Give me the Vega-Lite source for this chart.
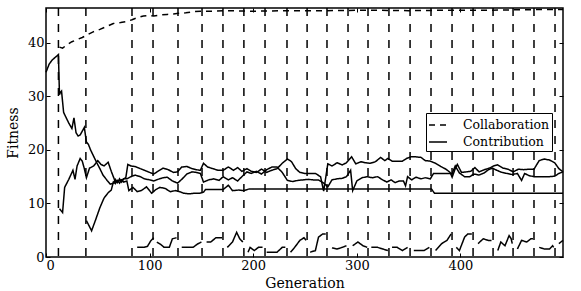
{
  "$schema": "https://vega.github.io/schema/vega-lite/v6.json",
  "width": 517,
  "height": 249,
  "autosize": {"type": "none"},
  "padding": {"left": 46, "top": 8, "right": 18, "bottom": 34},
  "config": {
    "view": {"stroke": "black", "strokeWidth": 1.5},
    "font": "DejaVu Serif",
    "axis": {"grid": false, "domain": false, "tickColor": "black", "tickWidth": 1, "tickSize": -4, "labelFont": "DejaVu Serif", "labelFontSize": 13, "labelColor": "black", "titleFont": "DejaVu Serif", "titleFontSize": 14, "titleFontWeight": "normal", "titleColor": "black"},
    "legend": {"labelFont": "DejaVu Serif", "labelFontSize": 12.5, "labelColor": "black"}
  },
  "datasets": {
    "events": [{"e": 12}, {"e": 38.5}, {"e": 83}, {"e": 103.3}, {"e": 127.4}, {"e": 150.6}, {"e": 170.8}, {"e": 191}, {"e": 211.4}, {"e": 232.6}, {"e": 252}, {"e": 271.2}, {"e": 291.5}, {"e": 310.8}, {"e": 331}, {"e": 351.4}, {"e": 371.6}, {"e": 391.9}, {"e": 412.2}, {"e": 431.5}, {"e": 450.8}, {"e": 471}, {"e": 491.3}],
    "collab": [
      {"g": 13, "v": 39.2, "t": "Collaboration"}, {"g": 16, "v": 39.0, "t": "Collaboration"}, {"g": 20, "v": 39.6, "t": "Collaboration"}, {"g": 25, "v": 40.2, "t": "Collaboration"}, {"g": 30, "v": 40.6, "t": "Collaboration"}, {"g": 35, "v": 41.0, "t": "Collaboration"}, {"g": 39, "v": 41.4, "t": "Collaboration"}, {"g": 45, "v": 42.0, "t": "Collaboration"}, {"g": 52, "v": 42.5, "t": "Collaboration"}, {"g": 58, "v": 43.0, "t": "Collaboration"}, {"g": 65, "v": 43.6, "t": "Collaboration"}, {"g": 72, "v": 43.8, "t": "Collaboration"}, {"g": 78, "v": 44.0, "t": "Collaboration"}, {"g": 83, "v": 44.3, "t": "Collaboration"}, {"g": 88, "v": 44.7, "t": "Collaboration"}, {"g": 94, "v": 45.0, "t": "Collaboration"}, {"g": 100, "v": 45.1, "t": "Collaboration"}, {"g": 104, "v": 45.0, "t": "Collaboration"}, {"g": 110, "v": 45.2, "t": "Collaboration"}, {"g": 117, "v": 45.3, "t": "Collaboration"}, {"g": 123, "v": 45.4, "t": "Collaboration"}, {"g": 128, "v": 45.5, "t": "Collaboration"}, {"g": 135, "v": 45.6, "t": "Collaboration"}, {"g": 142, "v": 45.8, "t": "Collaboration"}, {"g": 149, "v": 45.9, "t": "Collaboration"}, {"g": 160, "v": 45.9, "t": "Collaboration"}, {"g": 175, "v": 46.0, "t": "Collaboration"}, {"g": 200, "v": 45.9, "t": "Collaboration"}, {"g": 230, "v": 46.0, "t": "Collaboration"}, {"g": 270, "v": 46.0, "t": "Collaboration"}, {"g": 310, "v": 46.1, "t": "Collaboration"}, {"g": 350, "v": 46.0, "t": "Collaboration"}, {"g": 390, "v": 46.1, "t": "Collaboration"}, {"g": 430, "v": 46.1, "t": "Collaboration"}, {"g": 470, "v": 46.2, "t": "Collaboration"}, {"g": 499, "v": 46.2, "t": "Collaboration"}
    ],
    "contrib": [
      {"g": 0, "v": 34.5, "s": "A", "t": "Contribution"}, {"g": 3, "v": 36.0, "s": "A", "t": "Contribution"}, {"g": 6, "v": 36.8, "s": "A", "t": "Contribution"}, {"g": 9, "v": 37.3, "s": "A", "t": "Contribution"}, {"g": 12, "v": 37.8, "s": "A", "t": "Contribution"}, {"g": 13, "v": 30.3, "s": "A", "t": "Contribution"}, {"g": 14, "v": 30.8, "s": "A", "t": "Contribution"}, {"g": 15, "v": 31.0, "s": "A", "t": "Contribution"}, {"g": 17, "v": 27.0, "s": "A", "t": "Contribution"}, {"g": 19, "v": 26.2, "s": "A", "t": "Contribution"}, {"g": 22, "v": 25.0, "s": "A", "t": "Contribution"}, {"g": 25, "v": 24.0, "s": "A", "t": "Contribution"}, {"g": 27, "v": 26.0, "s": "A", "t": "Contribution"}, {"g": 29, "v": 23.2, "s": "A", "t": "Contribution"}, {"g": 31, "v": 22.6, "s": "A", "t": "Contribution"}, {"g": 33, "v": 22.8, "s": "A", "t": "Contribution"}, {"g": 35, "v": 23.5, "s": "A", "t": "Contribution"}, {"g": 37, "v": 24.2, "s": "A", "t": "Contribution"}, {"g": 39, "v": 21.5, "s": "A", "t": "Contribution"}, {"g": 41, "v": 21.0, "s": "A", "t": "Contribution"}, {"g": 43, "v": 20.0, "s": "A", "t": "Contribution"}, {"g": 46, "v": 18.8, "s": "A", "t": "Contribution"}, {"g": 49, "v": 17.6, "s": "A", "t": "Contribution"}, {"g": 52, "v": 16.5, "s": "A", "t": "Contribution"}, {"g": 55, "v": 15.3, "s": "A", "t": "Contribution"}, {"g": 59, "v": 14.3, "s": "A", "t": "Contribution"}, {"g": 62, "v": 13.6, "s": "A", "t": "Contribution"}, {"g": 65, "v": 13.8, "s": "A", "t": "Contribution"}, {"g": 67, "v": 14.5, "s": "A", "t": "Contribution"}, {"g": 69, "v": 13.9, "s": "A", "t": "Contribution"}, {"g": 71, "v": 14.6, "s": "A", "t": "Contribution"}, {"g": 73, "v": 14.0, "s": "A", "t": "Contribution"}, {"g": 75, "v": 14.6, "s": "A", "t": "Contribution"}, {"g": 78, "v": 14.6, "s": "A", "t": "Contribution"}, {"g": 82, "v": 15.0, "s": "A", "t": "Contribution"}, {"g": 86, "v": 15.3, "s": "A", "t": "Contribution"}, {"g": 91, "v": 15.0, "s": "A", "t": "Contribution"}, {"g": 95, "v": 14.6, "s": "A", "t": "Contribution"}, {"g": 100, "v": 14.4, "s": "A", "t": "Contribution"}, {"g": 104, "v": 14.2, "s": "A", "t": "Contribution"}, {"g": 108, "v": 14.5, "s": "A", "t": "Contribution"}, {"g": 113, "v": 14.8, "s": "A", "t": "Contribution"}, {"g": 117, "v": 14.9, "s": "A", "t": "Contribution"}, {"g": 122, "v": 14.2, "s": "A", "t": "Contribution"}, {"g": 127, "v": 13.8, "s": "A", "t": "Contribution"}, {"g": 131, "v": 14.5, "s": "A", "t": "Contribution"}, {"g": 136, "v": 15.5, "s": "A", "t": "Contribution"}, {"g": 141, "v": 15.9, "s": "A", "t": "Contribution"}, {"g": 145, "v": 15.8, "s": "A", "t": "Contribution"}, {"g": 149, "v": 15.6, "s": "A", "t": "Contribution"}, {"g": 152, "v": 14.0, "s": "A", "t": "Contribution"}, {"g": 157, "v": 14.4, "s": "A", "t": "Contribution"}, {"g": 162, "v": 14.6, "s": "A", "t": "Contribution"}, {"g": 167, "v": 14.3, "s": "A", "t": "Contribution"}, {"g": 171, "v": 15.0, "s": "A", "t": "Contribution"}, {"g": 176, "v": 14.4, "s": "A", "t": "Contribution"}, {"g": 180, "v": 14.8, "s": "A", "t": "Contribution"}, {"g": 185, "v": 14.2, "s": "A", "t": "Contribution"}, {"g": 189, "v": 15.0, "s": "A", "t": "Contribution"}, {"g": 194, "v": 15.9, "s": "A", "t": "Contribution"}, {"g": 198, "v": 15.6, "s": "A", "t": "Contribution"}, {"g": 203, "v": 16.0, "s": "A", "t": "Contribution"}, {"g": 208, "v": 15.5, "s": "A", "t": "Contribution"}, {"g": 213, "v": 16.3, "s": "A", "t": "Contribution"}, {"g": 218, "v": 16.8, "s": "A", "t": "Contribution"}, {"g": 223, "v": 16.8, "s": "A", "t": "Contribution"}, {"g": 228, "v": 15.8, "s": "A", "t": "Contribution"}, {"g": 233, "v": 14.3, "s": "A", "t": "Contribution"}, {"g": 238, "v": 14.1, "s": "A", "t": "Contribution"}, {"g": 243, "v": 14.3, "s": "A", "t": "Contribution"}, {"g": 248, "v": 14.4, "s": "A", "t": "Contribution"}, {"g": 253, "v": 14.5, "s": "A", "t": "Contribution"}, {"g": 258, "v": 14.4, "s": "A", "t": "Contribution"}, {"g": 263, "v": 14.4, "s": "A", "t": "Contribution"}, {"g": 268, "v": 13.8, "s": "A", "t": "Contribution"}, {"g": 272, "v": 13.1, "s": "A", "t": "Contribution"}, {"g": 276, "v": 14.4, "s": "A", "t": "Contribution"}, {"g": 281, "v": 14.6, "s": "A", "t": "Contribution"}, {"g": 286, "v": 14.7, "s": "A", "t": "Contribution"}, {"g": 290, "v": 15.0, "s": "A", "t": "Contribution"}, {"g": 294, "v": 16.2, "s": "A", "t": "Contribution"}, {"g": 296, "v": 12.4, "s": "A", "t": "Contribution"}, {"g": 300, "v": 14.2, "s": "A", "t": "Contribution"}, {"g": 305, "v": 14.8, "s": "A", "t": "Contribution"}, {"g": 310, "v": 15.0, "s": "A", "t": "Contribution"}, {"g": 315, "v": 14.8, "s": "A", "t": "Contribution"}, {"g": 320, "v": 15.0, "s": "A", "t": "Contribution"}, {"g": 325, "v": 14.4, "s": "A", "t": "Contribution"}, {"g": 329, "v": 14.0, "s": "A", "t": "Contribution"}, {"g": 333, "v": 14.4, "s": "A", "t": "Contribution"}, {"g": 337, "v": 13.9, "s": "A", "t": "Contribution"}, {"g": 341, "v": 14.2, "s": "A", "t": "Contribution"}, {"g": 345, "v": 14.2, "s": "A", "t": "Contribution"}, {"g": 347, "v": 13.3, "s": "A", "t": "Contribution"}, {"g": 349, "v": 15.0, "s": "A", "t": "Contribution"}, {"g": 353, "v": 14.4, "s": "A", "t": "Contribution"}, {"g": 357, "v": 14.9, "s": "A", "t": "Contribution"}, {"g": 362, "v": 14.6, "s": "A", "t": "Contribution"}, {"g": 366, "v": 14.8, "s": "A", "t": "Contribution"}, {"g": 371, "v": 14.6, "s": "A", "t": "Contribution"}, {"g": 374, "v": 15.6, "s": "A", "t": "Contribution"}, {"g": 379, "v": 15.6, "s": "A", "t": "Contribution"}, {"g": 384, "v": 15.6, "s": "A", "t": "Contribution"}, {"g": 388, "v": 15.6, "s": "A", "t": "Contribution"}, {"g": 392, "v": 15.6, "s": "A", "t": "Contribution"}, {"g": 395, "v": 17.0, "s": "A", "t": "Contribution"}, {"g": 399, "v": 15.7, "s": "A", "t": "Contribution"}, {"g": 404, "v": 15.0, "s": "A", "t": "Contribution"}, {"g": 409, "v": 15.0, "s": "A", "t": "Contribution"}, {"g": 413, "v": 15.5, "s": "A", "t": "Contribution"}, {"g": 418, "v": 15.3, "s": "A", "t": "Contribution"}, {"g": 423, "v": 15.7, "s": "A", "t": "Contribution"}, {"g": 427, "v": 16.3, "s": "A", "t": "Contribution"}, {"g": 431, "v": 16.6, "s": "A", "t": "Contribution"}, {"g": 435, "v": 16.2, "s": "A", "t": "Contribution"}, {"g": 440, "v": 15.8, "s": "A", "t": "Contribution"}, {"g": 445, "v": 15.6, "s": "A", "t": "Contribution"}, {"g": 450, "v": 15.4, "s": "A", "t": "Contribution"}, {"g": 455, "v": 15.6, "s": "A", "t": "Contribution"}, {"g": 459, "v": 14.3, "s": "A", "t": "Contribution"}, {"g": 462, "v": 15.6, "s": "A", "t": "Contribution"}, {"g": 466, "v": 15.2, "s": "A", "t": "Contribution"}, {"g": 471, "v": 15.0, "s": "A", "t": "Contribution"}, {"g": 476, "v": 15.0, "s": "A", "t": "Contribution"}, {"g": 481, "v": 15.0, "s": "A", "t": "Contribution"}, {"g": 486, "v": 15.0, "s": "A", "t": "Contribution"}, {"g": 491, "v": 15.1, "s": "A", "t": "Contribution"}, {"g": 495, "v": 15.6, "s": "A", "t": "Contribution"}, {"g": 499, "v": 15.9, "s": "A", "t": "Contribution"},

      {"g": 13, "v": 9.0, "s": "B", "t": "Contribution"}, {"g": 16, "v": 8.3, "s": "B", "t": "Contribution"}, {"g": 18, "v": 13.0, "s": "B", "t": "Contribution"}, {"g": 22, "v": 14.5, "s": "B", "t": "Contribution"}, {"g": 26, "v": 16.2, "s": "B", "t": "Contribution"}, {"g": 28, "v": 14.5, "s": "B", "t": "Contribution"}, {"g": 30, "v": 17.0, "s": "B", "t": "Contribution"}, {"g": 33, "v": 18.4, "s": "B", "t": "Contribution"}, {"g": 35, "v": 17.9, "s": "B", "t": "Contribution"}, {"g": 37, "v": 16.5, "s": "B", "t": "Contribution"}, {"g": 39, "v": 14.8, "s": "B", "t": "Contribution"}, {"g": 42, "v": 16.6, "s": "B", "t": "Contribution"}, {"g": 46, "v": 17.0, "s": "B", "t": "Contribution"}, {"g": 50, "v": 18.0, "s": "B", "t": "Contribution"}, {"g": 53, "v": 17.3, "s": "B", "t": "Contribution"}, {"g": 56, "v": 17.0, "s": "B", "t": "Contribution"}, {"g": 60, "v": 17.7, "s": "B", "t": "Contribution"}, {"g": 63, "v": 16.0, "s": "B", "t": "Contribution"}, {"g": 67, "v": 14.0, "s": "B", "t": "Contribution"}, {"g": 70, "v": 14.2, "s": "B", "t": "Contribution"}, {"g": 74, "v": 14.5, "s": "B", "t": "Contribution"}, {"g": 77, "v": 14.8, "s": "B", "t": "Contribution"}, {"g": 79, "v": 17.3, "s": "B", "t": "Contribution"}, {"g": 82, "v": 17.0, "s": "B", "t": "Contribution"}, {"g": 86, "v": 16.9, "s": "B", "t": "Contribution"}, {"g": 91, "v": 16.5, "s": "B", "t": "Contribution"}, {"g": 95, "v": 16.2, "s": "B", "t": "Contribution"}, {"g": 100, "v": 15.8, "s": "B", "t": "Contribution"}, {"g": 104, "v": 15.5, "s": "B", "t": "Contribution"}, {"g": 108, "v": 16.0, "s": "B", "t": "Contribution"}, {"g": 113, "v": 16.6, "s": "B", "t": "Contribution"}, {"g": 118, "v": 16.3, "s": "B", "t": "Contribution"}, {"g": 123, "v": 15.8, "s": "B", "t": "Contribution"}, {"g": 127, "v": 15.9, "s": "B", "t": "Contribution"}, {"g": 131, "v": 16.8, "s": "B", "t": "Contribution"}, {"g": 136, "v": 16.9, "s": "B", "t": "Contribution"}, {"g": 141, "v": 16.5, "s": "B", "t": "Contribution"}, {"g": 145, "v": 16.3, "s": "B", "t": "Contribution"}, {"g": 149, "v": 16.2, "s": "B", "t": "Contribution"}, {"g": 152, "v": 17.5, "s": "B", "t": "Contribution"}, {"g": 156, "v": 16.8, "s": "B", "t": "Contribution"}, {"g": 161, "v": 16.5, "s": "B", "t": "Contribution"}, {"g": 166, "v": 16.2, "s": "B", "t": "Contribution"}, {"g": 171, "v": 16.2, "s": "B", "t": "Contribution"}, {"g": 176, "v": 16.8, "s": "B", "t": "Contribution"}, {"g": 181, "v": 16.2, "s": "B", "t": "Contribution"}, {"g": 185, "v": 16.7, "s": "B", "t": "Contribution"}, {"g": 189, "v": 16.0, "s": "B", "t": "Contribution"}, {"g": 194, "v": 16.5, "s": "B", "t": "Contribution"}, {"g": 198, "v": 16.0, "s": "B", "t": "Contribution"}, {"g": 203, "v": 15.8, "s": "B", "t": "Contribution"}, {"g": 208, "v": 16.4, "s": "B", "t": "Contribution"}, {"g": 213, "v": 15.8, "s": "B", "t": "Contribution"}, {"g": 218, "v": 16.2, "s": "B", "t": "Contribution"}, {"g": 223, "v": 16.5, "s": "B", "t": "Contribution"}, {"g": 228, "v": 17.5, "s": "B", "t": "Contribution"}, {"g": 233, "v": 18.3, "s": "B", "t": "Contribution"}, {"g": 237, "v": 17.8, "s": "B", "t": "Contribution"}, {"g": 241, "v": 16.5, "s": "B", "t": "Contribution"}, {"g": 245, "v": 15.8, "s": "B", "t": "Contribution"}, {"g": 250, "v": 15.6, "s": "B", "t": "Contribution"}, {"g": 255, "v": 15.6, "s": "B", "t": "Contribution"}, {"g": 260, "v": 15.6, "s": "B", "t": "Contribution"}, {"g": 265, "v": 15.0, "s": "B", "t": "Contribution"}, {"g": 268, "v": 12.3, "s": "B", "t": "Contribution"}, {"g": 272, "v": 17.4, "s": "B", "t": "Contribution"}, {"g": 276, "v": 17.0, "s": "B", "t": "Contribution"}, {"g": 281, "v": 17.6, "s": "B", "t": "Contribution"}, {"g": 286, "v": 17.2, "s": "B", "t": "Contribution"}, {"g": 290, "v": 17.6, "s": "B", "t": "Contribution"}, {"g": 295, "v": 18.7, "s": "B", "t": "Contribution"}, {"g": 299, "v": 17.4, "s": "B", "t": "Contribution"}, {"g": 304, "v": 17.8, "s": "B", "t": "Contribution"}, {"g": 308, "v": 17.6, "s": "B", "t": "Contribution"}, {"g": 313, "v": 17.5, "s": "B", "t": "Contribution"}, {"g": 318, "v": 17.8, "s": "B", "t": "Contribution"}, {"g": 323, "v": 18.6, "s": "B", "t": "Contribution"}, {"g": 327, "v": 18.0, "s": "B", "t": "Contribution"}, {"g": 330, "v": 18.4, "s": "B", "t": "Contribution"}, {"g": 334, "v": 17.9, "s": "B", "t": "Contribution"}, {"g": 339, "v": 17.9, "s": "B", "t": "Contribution"}, {"g": 344, "v": 17.9, "s": "B", "t": "Contribution"}, {"g": 348, "v": 18.4, "s": "B", "t": "Contribution"}, {"g": 352, "v": 18.7, "s": "B", "t": "Contribution"}, {"g": 357, "v": 18.7, "s": "B", "t": "Contribution"}, {"g": 362, "v": 18.6, "s": "B", "t": "Contribution"}, {"g": 366, "v": 18.0, "s": "B", "t": "Contribution"}, {"g": 371, "v": 17.9, "s": "B", "t": "Contribution"}, {"g": 376, "v": 17.5, "s": "B", "t": "Contribution"}, {"g": 381, "v": 16.9, "s": "B", "t": "Contribution"}, {"g": 386, "v": 16.4, "s": "B", "t": "Contribution"}, {"g": 390, "v": 15.8, "s": "B", "t": "Contribution"}, {"g": 392, "v": 14.9, "s": "B", "t": "Contribution"}, {"g": 395, "v": 16.5, "s": "B", "t": "Contribution"}, {"g": 397, "v": 17.3, "s": "B", "t": "Contribution"}, {"g": 401, "v": 15.8, "s": "B", "t": "Contribution"}, {"g": 406, "v": 15.9, "s": "B", "t": "Contribution"}, {"g": 410, "v": 16.0, "s": "B", "t": "Contribution"}, {"g": 414, "v": 16.7, "s": "B", "t": "Contribution"}, {"g": 418, "v": 15.9, "s": "B", "t": "Contribution"}, {"g": 423, "v": 16.3, "s": "B", "t": "Contribution"}, {"g": 428, "v": 16.6, "s": "B", "t": "Contribution"}, {"g": 432, "v": 17.0, "s": "B", "t": "Contribution"}, {"g": 436, "v": 17.2, "s": "B", "t": "Contribution"}, {"g": 441, "v": 16.6, "s": "B", "t": "Contribution"}, {"g": 446, "v": 16.4, "s": "B", "t": "Contribution"}, {"g": 451, "v": 15.9, "s": "B", "t": "Contribution"}, {"g": 456, "v": 16.4, "s": "B", "t": "Contribution"}, {"g": 461, "v": 16.3, "s": "B", "t": "Contribution"}, {"g": 466, "v": 16.4, "s": "B", "t": "Contribution"}, {"g": 471, "v": 16.4, "s": "B", "t": "Contribution"}, {"g": 476, "v": 18.0, "s": "B", "t": "Contribution"}, {"g": 481, "v": 18.3, "s": "B", "t": "Contribution"}, {"g": 486, "v": 18.1, "s": "B", "t": "Contribution"}, {"g": 491, "v": 17.6, "s": "B", "t": "Contribution"}, {"g": 495, "v": 16.5, "s": "B", "t": "Contribution"}, {"g": 499, "v": 15.9, "s": "B", "t": "Contribution"},

      {"g": 39, "v": 6.8, "s": "C", "t": "Contribution"}, {"g": 44, "v": 4.9, "s": "C", "t": "Contribution"}, {"g": 48, "v": 7.0, "s": "C", "t": "Contribution"}, {"g": 52, "v": 9.2, "s": "C", "t": "Contribution"}, {"g": 56, "v": 11.0, "s": "C", "t": "Contribution"}, {"g": 60, "v": 12.0, "s": "C", "t": "Contribution"}, {"g": 63, "v": 12.5, "s": "C", "t": "Contribution"}, {"g": 65, "v": 14.0, "s": "C", "t": "Contribution"}, {"g": 67, "v": 13.7, "s": "C", "t": "Contribution"}, {"g": 69, "v": 14.3, "s": "C", "t": "Contribution"}, {"g": 71, "v": 13.8, "s": "C", "t": "Contribution"}, {"g": 73, "v": 14.4, "s": "C", "t": "Contribution"}, {"g": 75, "v": 14.0, "s": "C", "t": "Contribution"}, {"g": 78, "v": 14.2, "s": "C", "t": "Contribution"}, {"g": 80, "v": 12.4, "s": "C", "t": "Contribution"}, {"g": 84, "v": 13.0, "s": "C", "t": "Contribution"}, {"g": 88, "v": 12.2, "s": "C", "t": "Contribution"}, {"g": 92, "v": 12.4, "s": "C", "t": "Contribution"}, {"g": 97, "v": 13.1, "s": "C", "t": "Contribution"}, {"g": 102, "v": 11.9, "s": "C", "t": "Contribution"}, {"g": 106, "v": 12.6, "s": "C", "t": "Contribution"}, {"g": 110, "v": 13.0, "s": "C", "t": "Contribution"}, {"g": 115, "v": 12.8, "s": "C", "t": "Contribution"}, {"g": 120, "v": 12.2, "s": "C", "t": "Contribution"}, {"g": 125, "v": 12.4, "s": "C", "t": "Contribution"}, {"g": 129, "v": 12.2, "s": "C", "t": "Contribution"}, {"g": 133, "v": 11.9, "s": "C", "t": "Contribution"}, {"g": 138, "v": 11.8, "s": "C", "t": "Contribution"}, {"g": 143, "v": 11.9, "s": "C", "t": "Contribution"}, {"g": 148, "v": 11.9, "s": "C", "t": "Contribution"}, {"g": 152, "v": 12.1, "s": "C", "t": "Contribution"}, {"g": 154, "v": 12.6, "s": "C", "t": "Contribution"}, {"g": 166, "v": 12.6, "s": "C", "t": "Contribution"}, {"g": 171, "v": 12.6, "s": "C", "t": "Contribution"}, {"g": 176, "v": 13.4, "s": "C", "t": "Contribution"}, {"g": 180, "v": 12.4, "s": "C", "t": "Contribution"}, {"g": 186, "v": 12.5, "s": "C", "t": "Contribution"}, {"g": 191, "v": 12.4, "s": "C", "t": "Contribution"}, {"g": 196, "v": 12.7, "s": "C", "t": "Contribution"}, {"g": 372, "v": 12.7, "s": "C", "t": "Contribution"}, {"g": 375, "v": 11.9, "s": "C", "t": "Contribution"}, {"g": 499, "v": 11.9, "s": "C", "t": "Contribution"},

      {"g": 88, "v": 1.8, "s": "S1", "t": "Contribution"}, {"g": 94, "v": 1.8, "s": "S1", "t": "Contribution"}, {"g": 98, "v": 2.0, "s": "S1", "t": "Contribution"}, {"g": 101, "v": 3.0, "s": "S1", "t": "Contribution"}, {"g": 104, "v": 3.6, "s": "S1", "t": "Contribution"},
      {"g": 107, "v": 2.8, "s": "S2", "t": "Contribution"}, {"g": 111, "v": 2.3, "s": "S2", "t": "Contribution"}, {"g": 114, "v": 1.8, "s": "S2", "t": "Contribution"}, {"g": 119, "v": 1.8, "s": "S2", "t": "Contribution"}, {"g": 122, "v": 3.4, "s": "S2", "t": "Contribution"}, {"g": 126, "v": 3.6, "s": "S2", "t": "Contribution"},
      {"g": 131, "v": 1.8, "s": "S3", "t": "Contribution"}, {"g": 137, "v": 1.8, "s": "S3", "t": "Contribution"}, {"g": 142, "v": 1.8, "s": "S3", "t": "Contribution"}, {"g": 146, "v": 2.4, "s": "S3", "t": "Contribution"}, {"g": 150, "v": 2.8, "s": "S3", "t": "Contribution"},
      {"g": 155, "v": 2.8, "s": "S4", "t": "Contribution"}, {"g": 159, "v": 2.8, "s": "S4", "t": "Contribution"}, {"g": 164, "v": 3.6, "s": "S4", "t": "Contribution"}, {"g": 170, "v": 3.6, "s": "S4", "t": "Contribution"},
      {"g": 175, "v": 1.8, "s": "S5", "t": "Contribution"}, {"g": 180, "v": 2.8, "s": "S5", "t": "Contribution"}, {"g": 184, "v": 4.6, "s": "S5", "t": "Contribution"}, {"g": 187, "v": 3.4, "s": "S5", "t": "Contribution"}, {"g": 190, "v": 2.8, "s": "S5", "t": "Contribution"},
      {"g": 195, "v": 0.9, "s": "S6", "t": "Contribution"}, {"g": 197, "v": 1.8, "s": "S6", "t": "Contribution"}, {"g": 201, "v": 1.2, "s": "S6", "t": "Contribution"}, {"g": 205, "v": 1.8, "s": "S6", "t": "Contribution"}, {"g": 209, "v": 1.8, "s": "S6", "t": "Contribution"},
      {"g": 213, "v": 0.9, "s": "S7", "t": "Contribution"}, {"g": 218, "v": 0.9, "s": "S7", "t": "Contribution"}, {"g": 223, "v": 0.9, "s": "S7", "t": "Contribution"}, {"g": 228, "v": 1.8, "s": "S7", "t": "Contribution"}, {"g": 231, "v": 1.8, "s": "S7", "t": "Contribution"},
      {"g": 236, "v": 0.9, "s": "S8", "t": "Contribution"}, {"g": 240, "v": 1.8, "s": "S8", "t": "Contribution"}, {"g": 245, "v": 3.1, "s": "S8", "t": "Contribution"}, {"g": 249, "v": 3.6, "s": "S8", "t": "Contribution"}, {"g": 251, "v": 3.1, "s": "S8", "t": "Contribution"},
      {"g": 255, "v": 0.9, "s": "S9", "t": "Contribution"}, {"g": 260, "v": 1.2, "s": "S9", "t": "Contribution"}, {"g": 263, "v": 3.7, "s": "S9", "t": "Contribution"}, {"g": 267, "v": 4.3, "s": "S9", "t": "Contribution"}, {"g": 270, "v": 4.3, "s": "S9", "t": "Contribution"},
      {"g": 276, "v": 1.7, "s": "S10", "t": "Contribution"}, {"g": 281, "v": 1.5, "s": "S10", "t": "Contribution"}, {"g": 286, "v": 1.8, "s": "S10", "t": "Contribution"}, {"g": 290, "v": 2.1, "s": "S10", "t": "Contribution"},
      {"g": 296, "v": 2.1, "s": "S11", "t": "Contribution"}, {"g": 301, "v": 2.8, "s": "S11", "t": "Contribution"}, {"g": 306, "v": 2.1, "s": "S11", "t": "Contribution"}, {"g": 310, "v": 1.8, "s": "S11", "t": "Contribution"},
      {"g": 314, "v": 1.8, "s": "S12", "t": "Contribution"}, {"g": 320, "v": 1.8, "s": "S12", "t": "Contribution"}, {"g": 325, "v": 1.5, "s": "S12", "t": "Contribution"}, {"g": 330, "v": 1.2, "s": "S12", "t": "Contribution"},
      {"g": 334, "v": 1.8, "s": "S13", "t": "Contribution"}, {"g": 339, "v": 1.8, "s": "S13", "t": "Contribution"}, {"g": 344, "v": 1.2, "s": "S13", "t": "Contribution"}, {"g": 349, "v": 1.8, "s": "S13", "t": "Contribution"},
      {"g": 355, "v": 1.2, "s": "S14", "t": "Contribution"}, {"g": 365, "v": 1.2, "s": "S14", "t": "Contribution"}, {"g": 370, "v": 1.8, "s": "S14", "t": "Contribution"},
      {"g": 376, "v": 1.2, "s": "S15", "t": "Contribution"}, {"g": 382, "v": 2.5, "s": "S15", "t": "Contribution"}, {"g": 387, "v": 3.1, "s": "S15", "t": "Contribution"}, {"g": 391, "v": 4.3, "s": "S15", "t": "Contribution"},
      {"g": 396, "v": 1.8, "s": "S16", "t": "Contribution"}, {"g": 399, "v": 1.2, "s": "S16", "t": "Contribution"}, {"g": 404, "v": 3.7, "s": "S16", "t": "Contribution"}, {"g": 407, "v": 4.3, "s": "S16", "t": "Contribution"}, {"g": 411, "v": 4.3, "s": "S16", "t": "Contribution"},
      {"g": 417, "v": 2.5, "s": "S17", "t": "Contribution"}, {"g": 422, "v": 3.4, "s": "S17", "t": "Contribution"}, {"g": 427, "v": 3.1, "s": "S17", "t": "Contribution"}, {"g": 430, "v": 3.1, "s": "S17", "t": "Contribution"},
      {"g": 436, "v": 1.2, "s": "S18", "t": "Contribution"}, {"g": 439, "v": 2.8, "s": "S18", "t": "Contribution"}, {"g": 443, "v": 2.1, "s": "S18", "t": "Contribution"}, {"g": 447, "v": 4.0, "s": "S18", "t": "Contribution"}, {"g": 449, "v": 3.4, "s": "S18", "t": "Contribution"}, {"g": 450, "v": 2.5, "s": "S18", "t": "Contribution"},
      {"g": 455, "v": 1.5, "s": "S19", "t": "Contribution"}, {"g": 459, "v": 3.1, "s": "S19", "t": "Contribution"}, {"g": 464, "v": 2.8, "s": "S19", "t": "Contribution"}, {"g": 468, "v": 3.4, "s": "S19", "t": "Contribution"}, {"g": 470, "v": 3.4, "s": "S19", "t": "Contribution"},
      {"g": 476, "v": 1.8, "s": "S20", "t": "Contribution"}, {"g": 481, "v": 1.5, "s": "S20", "t": "Contribution"}, {"g": 486, "v": 1.5, "s": "S20", "t": "Contribution"}, {"g": 489, "v": 2.1, "s": "S20", "t": "Contribution"}, {"g": 490, "v": 1.8, "s": "S20", "t": "Contribution"},
      {"g": 495, "v": 2.5, "s": "S21", "t": "Contribution"}, {"g": 499, "v": 3.1, "s": "S21", "t": "Contribution"}
    ]
  },
  "layer": [
    {
      "data": {"name": "events"},
      "mark": {"type": "rule", "color": "black", "strokeWidth": 1.5, "strokeDash": [8, 8]},
      "encoding": {
        "x": {"field": "e", "type": "quantitative", "scale": {"domain": [0, 499], "nice": false, "zero": false},
              "axis": {"orient": "top", "labels": false, "title": null, "values": [0, 100, 200, 300, 400]}}
      }
    },
    {
      "data": {"name": "collab"},
      "mark": {"type": "line", "color": "black", "strokeWidth": 1.5},
      "encoding": {
        "x": {"field": "g", "type": "quantitative", "scale": {"domain": [0, 499], "nice": false, "zero": false}, "axis": null},
        "y": {"field": "v", "type": "quantitative", "scale": {"domain": [0, 46.5], "nice": false},
              "axis": {"orient": "right", "labels": false, "title": null, "values": [0, 10, 20, 30, 40]}},
        "strokeDash": {"field": "t", "type": "nominal",
                       "scale": {"domain": ["Collaboration", "Contribution"], "range": [[6, 5], [1, 0]]},
                       "legend": {"title": null, "orient": "none", "legendX": 380, "legendY": 105, "symbolType": "stroke", "symbolSize": 324, "symbolStrokeWidth": 1.5, "symbolStrokeColor": "black", "strokeColor": "black", "fillColor": "white", "padding": 2, "rowPadding": 0, "labelOffset": 15, "cornerRadius": 0, "labelFont": "DejaVu Serif"}}
      }
    },
    {
      "data": {"name": "contrib"},
      "mark": {"type": "line", "color": "black", "strokeWidth": 1.5},
      "encoding": {
        "x": {"field": "g", "type": "quantitative", "scale": {"domain": [0, 499], "nice": false, "zero": false},
              "axis": {"orient": "bottom", "title": "Generation", "values": [0, 100, 200, 300, 400], "labelPadding": 6, "titlePadding": 4, "labelFont": "DejaVu Serif", "titleFont": "DejaVu Serif"}},
        "y": {"field": "v", "type": "quantitative", "scale": {"domain": [0, 46.5], "nice": false},
              "axis": {"orient": "left", "title": "Fitness", "values": [0, 10, 20, 30, 40], "labelPadding": 6, "titlePadding": 7, "labelFont": "DejaVu Serif", "titleFont": "DejaVu Serif"}},
        "detail": {"field": "s", "type": "nominal"},
        "strokeDash": {"field": "t", "type": "nominal",
                       "scale": {"domain": ["Collaboration", "Contribution"], "range": [[6, 5], [1, 0]]},
                       "legend": {"title": null, "orient": "none", "legendX": 380, "legendY": 105, "symbolType": "stroke", "symbolSize": 324, "symbolStrokeWidth": 1.5, "symbolStrokeColor": "black", "strokeColor": "black", "fillColor": "white", "padding": 2, "rowPadding": 0, "labelOffset": 15, "cornerRadius": 0, "labelFont": "DejaVu Serif"}}
      }
    }
  ],
  "resolve": {"axis": {"x": "independent", "y": "independent"}}
}
